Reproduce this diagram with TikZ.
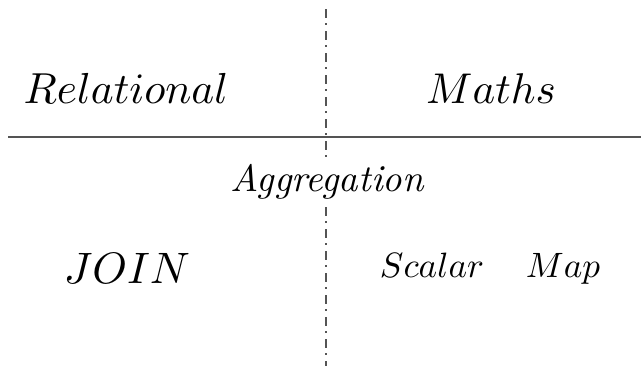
\documentclass[tikz,border=0pt]{standalone}
\usepackage{graphicx}
\begin{document}
\begin{tikzpicture}[x=0.5pt,y=-0.5pt,
  lbl/.style={anchor=base,inner sep=0pt},
  sep/.style={draw=black!67,line width=0.6pt},
  vsep/.style={draw=black!67,line width=0.9pt,dash pattern=on 4.5pt off 2.5pt on 1pt off 3pt}]
\useasboundingbox (0,0) rectangle (641,366);
\coordinate (vtop) at (326,9);
\coordinate (vbot) at (326,366);
\coordinate (hl) at (8,137);
\coordinate (hr) at (641,137);
\draw[vsep] (vtop) -- (vbot);
\draw[sep] (hl) -- (hr);
\node[lbl] (rel) at (126,103) {\scalebox{2.17}{$Relational$}};
\node[lbl] (maths) at (491,103) {\scalebox{2.15}{$Maths$}};
\node[lbl,fill=white,inner sep=1pt] (agg) at (327,191) {\scalebox{1.9}{\itshape Aggregation}};
\node[lbl] (join) at (127,283) {\scalebox{2.2}{$JOIN$}};
\node[lbl] (scalar) at (432,277) {\scalebox{1.76}{$Scalar$}};
\node[lbl] (map) at (563,277) {\scalebox{1.76}{$Map$}};
\end{tikzpicture}
\end{document}
